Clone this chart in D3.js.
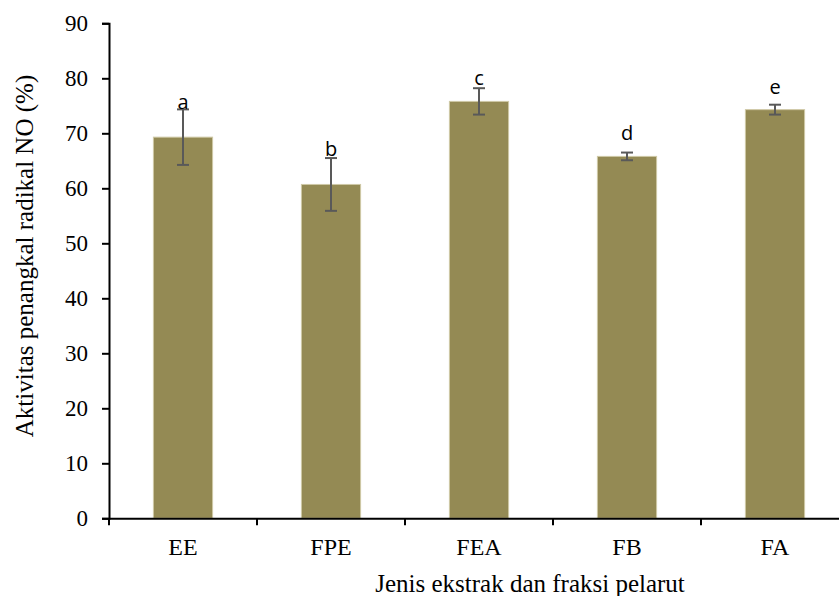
<!DOCTYPE html>
<html>
<head>
<meta charset="utf-8">
<script src="https://cdn.jsdelivr.net/npm/d3@7"></script>
<style>
  body { margin: 0; background: #fff; }
  svg { display: block; }
</style>
</head>
<body>
<svg id="chart" width="839" height="596"></svg>
<script>
// data
var categories = ["EE", "FPE", "FEA", "FB", "FA"];
var means = [69.3, 60.7, 75.8, 65.8, 74.3];
var errors = [5.05, 4.8, 2.4, 0.7, 0.9];
var letters = ["a", "b", "c", "d", "e"];
var letterAt = [74.5, 65.9, 78.8, 68.8, 77.1]; // baseline, in axis units
var yTicks = [0, 10, 20, 30, 40, 50, 60, 70, 80, 90];

var svg = d3.select("#chart");

// plot frame (right side runs past the window edge, as in the original)
var plotLeft = 109, plotTop = 23.3, plotBottom = 518.3, bandW = 148;

var x = d3.scaleBand()
  .domain(categories)
  .range([plotLeft, plotLeft + bandW * categories.length])
  .paddingInner(0.6)
  .paddingOuter(0.3);

var y = d3.scaleLinear().domain([0, 90]).range([plotBottom, plotTop]);

var serif = "Liberation Serif, Times New Roman, serif";

// bars
svg.append("g")
  .selectAll("rect")
  .data(categories)
  .enter()
  .append("rect")
  .attr("x", function (d) { return x(d); })
  .attr("y", function (d, i) { return y(means[i]); })
  .attr("width", x.bandwidth())
  .attr("height", function (d, i) { return y(0) - y(means[i]); })
  .attr("fill", "#948a54")
  .attr("stroke", "#cfc9a6")
  .attr("stroke-width", 1);

// error bars
var eb = svg.append("g").attr("stroke", "#595959").attr("stroke-width", 2);
categories.forEach(function (d, i) {
  var cx = x(d) + x.bandwidth() / 2;
  var hi = y(means[i] + errors[i]), lo = y(means[i] - errors[i]);
  eb.append("line").attr("x1", cx).attr("x2", cx).attr("y1", hi).attr("y2", lo);
  eb.append("line").attr("x1", cx - 6).attr("x2", cx + 6).attr("y1", hi).attr("y2", hi);
  eb.append("line").attr("x1", cx - 6).attr("x2", cx + 6).attr("y1", lo).attr("y2", lo);
});

// significance letters
svg.append("g")
  .selectAll("text")
  .data(letters)
  .enter()
  .append("text")
  .attr("x", function (d, i) { return x(categories[i]) + x.bandwidth() / 2; })
  .attr("y", function (d, i) { return y(letterAt[i]); })
  .attr("text-anchor", "middle")
  .attr("font-family", "Open Sans, Liberation Sans, sans-serif")
  .attr("font-size", 20)
  .attr("fill", "#000")
  .text(function (d) { return d; });

// y axis
var yAxis = svg.append("g")
  .attr("transform", "translate(" + plotLeft + ",0)")
  .call(d3.axisLeft(y).tickValues(yTicks).tickSize(7).tickPadding(14))
  .attr("font-family", serif)
  .attr("font-size", 23);
yAxis.select(".domain").attr("stroke", "#000").attr("stroke-width", 2);
yAxis.selectAll(".tick line").attr("stroke", "#000").attr("stroke-width", 2);
yAxis.selectAll("text").attr("fill", "#000");

// x axis
var xAxis = svg.append("g")
  .attr("transform", "translate(0," + plotBottom + ")")
  .call(d3.axisBottom(x).tickSize(0).tickPadding(20))
  .attr("font-family", serif)
  .attr("font-size", 24);
xAxis.select(".domain").attr("stroke", "#000").attr("stroke-width", 2);
xAxis.selectAll("text").attr("fill", "#000");

// category boundary ticks
var bounds = d3.range(categories.length + 1).map(function (k) { return plotLeft + k * bandW; });
svg.append("g")
  .selectAll("line")
  .data(bounds)
  .enter()
  .append("line")
  .attr("x1", function (d) { return d; })
  .attr("x2", function (d) { return d; })
  .attr("y1", plotBottom)
  .attr("y2", plotBottom + 7)
  .attr("stroke", "#000")
  .attr("stroke-width", 2);

// axis titles
svg.append("text")
  .attr("transform", "translate(33,256) rotate(-90)")
  .attr("text-anchor", "middle")
  .attr("font-family", serif)
  .attr("font-size", 25)
  .text("Aktivitas penangkal radikal NO (%)");

svg.append("text")
  .attr("x", 530)
  .attr("y", 592)
  .attr("text-anchor", "middle")
  .attr("font-family", serif)
  .attr("font-size", 25)
  .text("Jenis ekstrak dan fraksi pelarut");
</script>
</body>
</html>
